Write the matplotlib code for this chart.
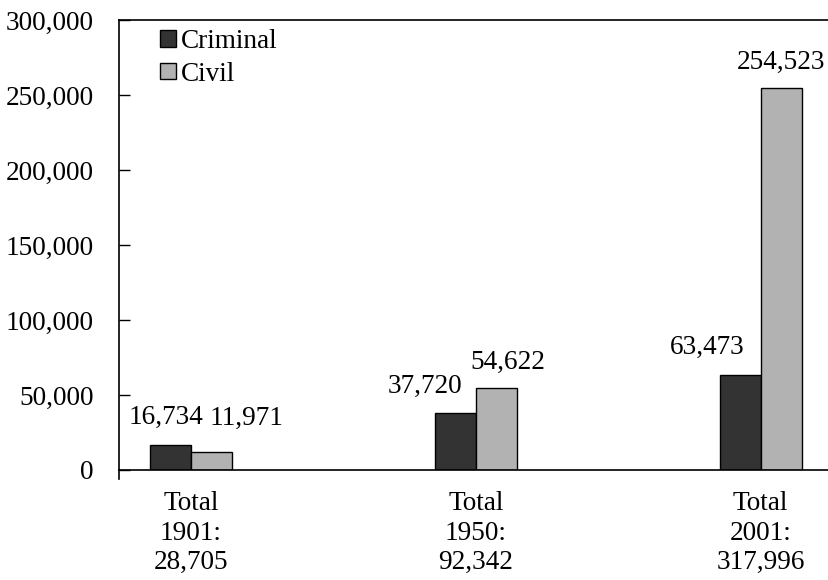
import matplotlib
matplotlib.use("Agg")
import matplotlib.pyplot as plt
import numpy as np

years = ["1901", "1950", "2001"]
totals = ["28,705", "92,342", "317,996"]
criminal = [16734, 37720, 63473]
civil = [11971, 54622, 254523]
yticks = [0, 50000, 100000, 150000, 200000, 250000, 300000]

plt.rcParams['font.family'] = ['Liberation Serif', 'DejaVu Serif']
FS = 19.6

fig = plt.figure(figsize=(8.29, 5.8), dpi=100)
ax = fig.add_axes([0.1435, 0.1897, 0.8565, 0.7758])

x = np.arange(len(years))
w = 0.144
ax.bar(x - w/2, criminal, w, color='#333333', edgecolor='black', linewidth=1, label='Criminal')
ax.bar(x + w/2, civil, w, color='#b2b2b2', edgecolor='black', linewidth=1, label='Civil')

ax.set_xlim(-0.253, 2.24)
ax.set_ylim(0, 300000)
ax.set_yticks(yticks)
ax.set_yticklabels([f"{v:,}" for v in yticks])
ax.set_xticks(x)
ax.set_xticklabels([f"Total\n{y}:\n{t}" for y, t in zip(years, totals)], linespacing=1.25)
ax.tick_params(axis='y', direction='in', length=8, width=1, pad=18, labelsize=FS)
ax.tick_params(axis='x', length=0, pad=15, labelsize=FS)
for s in ['left', 'top', 'bottom']:
    ax.spines[s].set_linewidth(1.2)
ax.spines['right'].set_visible(False)
ax.plot([0, 0], [0, -0.02], transform=ax.transAxes, color='black', lw=1.2, clip_on=False)

# value labels (pixel offsets: dx, dy above bar top)
crim_off = [(-5, 27), (-30, 27), (-33, 27)]
civ_off = [(35, 34), (11, 26), (0, 26)]
for xi, v, (dx, dy) in zip(x - w/2, criminal, crim_off):
    ax.annotate(f"{v:,}", (xi, v), xytext=(dx, dy), textcoords='offset pixels',
                ha='center', va='center', fontsize=FS)
for xi, v, (dx, dy) in zip(x + w/2, civil, civ_off):
    ax.annotate(f"{v:,}", (xi, v), xytext=(dx, dy), textcoords='offset pixels',
                ha='center', va='center', fontsize=FS)

leg = ax.legend(loc='upper left', bbox_to_anchor=(0.043, 1.004), frameon=False,
                fontsize=FS, handlelength=0.56, handleheight=0.56, handletextpad=0.2,
                labelspacing=0.28, borderaxespad=0.0)

fig.savefig("out.png", dpi=100)
